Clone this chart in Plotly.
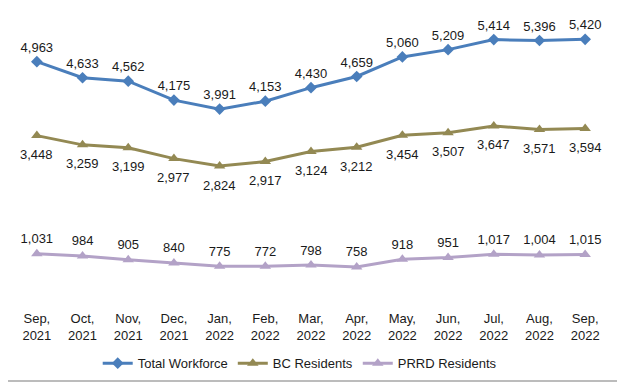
import plotly.graph_objects as go

months = ["Sep,<br>2021", "Oct,<br>2021", "Nov,<br>2021", "Dec,<br>2021", "Jan,<br>2022", "Feb,<br>2022",
          "Mar,<br>2022", "Apr,<br>2022", "May,<br>2022", "Jun,<br>2022", "Jul,<br>2022", "Aug,<br>2022", "Sep,<br>2022"]
total_workforce = [4963, 4633, 4562, 4175, 3991, 4153, 4430, 4659, 5060, 5209, 5414, 5396, 5420]
bc_residents = [3448, 3259, 3199, 2977, 2824, 2917, 3124, 3212, 3454, 3507, 3647, 3571, 3594]
prrd_residents = [1031, 984, 905, 840, 775, 772, 798, 758, 918, 951, 1017, 1004, 1015]

x = list(range(len(months)))
font = dict(family="Liberation Sans, Arial, sans-serif", size=13, color="#1a1a1a")

def fmt(v):
    return [f"{a:,}" for a in v]

fig = go.Figure()
fig.add_trace(go.Scatter(x=x, y=total_workforce, name="Total Workforce", mode="lines+markers+text",
                         line=dict(color="#4A7EBB", width=3), marker=dict(symbol="diamond", size=9, color="#4A7EBB"),
                         text=fmt(total_workforce), textposition="top center", textfont=font))
fig.add_trace(go.Scatter(x=x, y=bc_residents, name="BC Residents", mode="lines+markers",
                         line=dict(color="#938953", width=3), marker=dict(symbol="triangle-up", size=10, color="#938953")))
fig.add_trace(go.Scatter(x=x, y=prrd_residents, name="PRRD Residents", mode="lines+markers+text",
                         line=dict(color="#B3A2C7", width=3), marker=dict(symbol="triangle-up", size=10, color="#B3A2C7"),
                         text=fmt(prrd_residents), textposition="top center", textfont=font))

annotations = [dict(x=xi, y=v, text=t, showarrow=False, yshift=-19, font=font, xref="x", yref="y")
               for xi, v, t in zip(x, bc_residents, fmt(bc_residents))]

fig.update_layout(
    width=617, height=377,
    margin=dict(l=6, r=17, t=3, b=81),
    paper_bgcolor="white", plot_bgcolor="white",
    font=font,
    showlegend=True,
    legend=dict(orientation="h", x=0.481, xanchor="center", y=-0.202, yanchor="middle",
                font=font, itemwidth=30, traceorder="normal"),
    xaxis=dict(tickmode="array", tickvals=x, ticktext=months, range=[-0.5, len(months) - 0.5],
               showgrid=False, zeroline=False, showline=False, ticks="", tickfont=font,
               ticklabelstandoff=5),
    yaxis=dict(range=[0, 6000], visible=False, showgrid=False, zeroline=False),
    annotations=annotations,
    shapes=[
        dict(type="line", xref="paper", yref="paper", x0=1.022, x1=1.022, y0=-0.2628, y1=1.02,
             line=dict(color="#A6A6A6", width=1.5)),
        dict(type="line", xref="paper", yref="paper", x0=-0.02, x1=1.022, y0=-0.2628, y1=-0.2628,
             line=dict(color="#A6A6A6", width=1.5)),
    ],
)

fig.write_html("out.html")
